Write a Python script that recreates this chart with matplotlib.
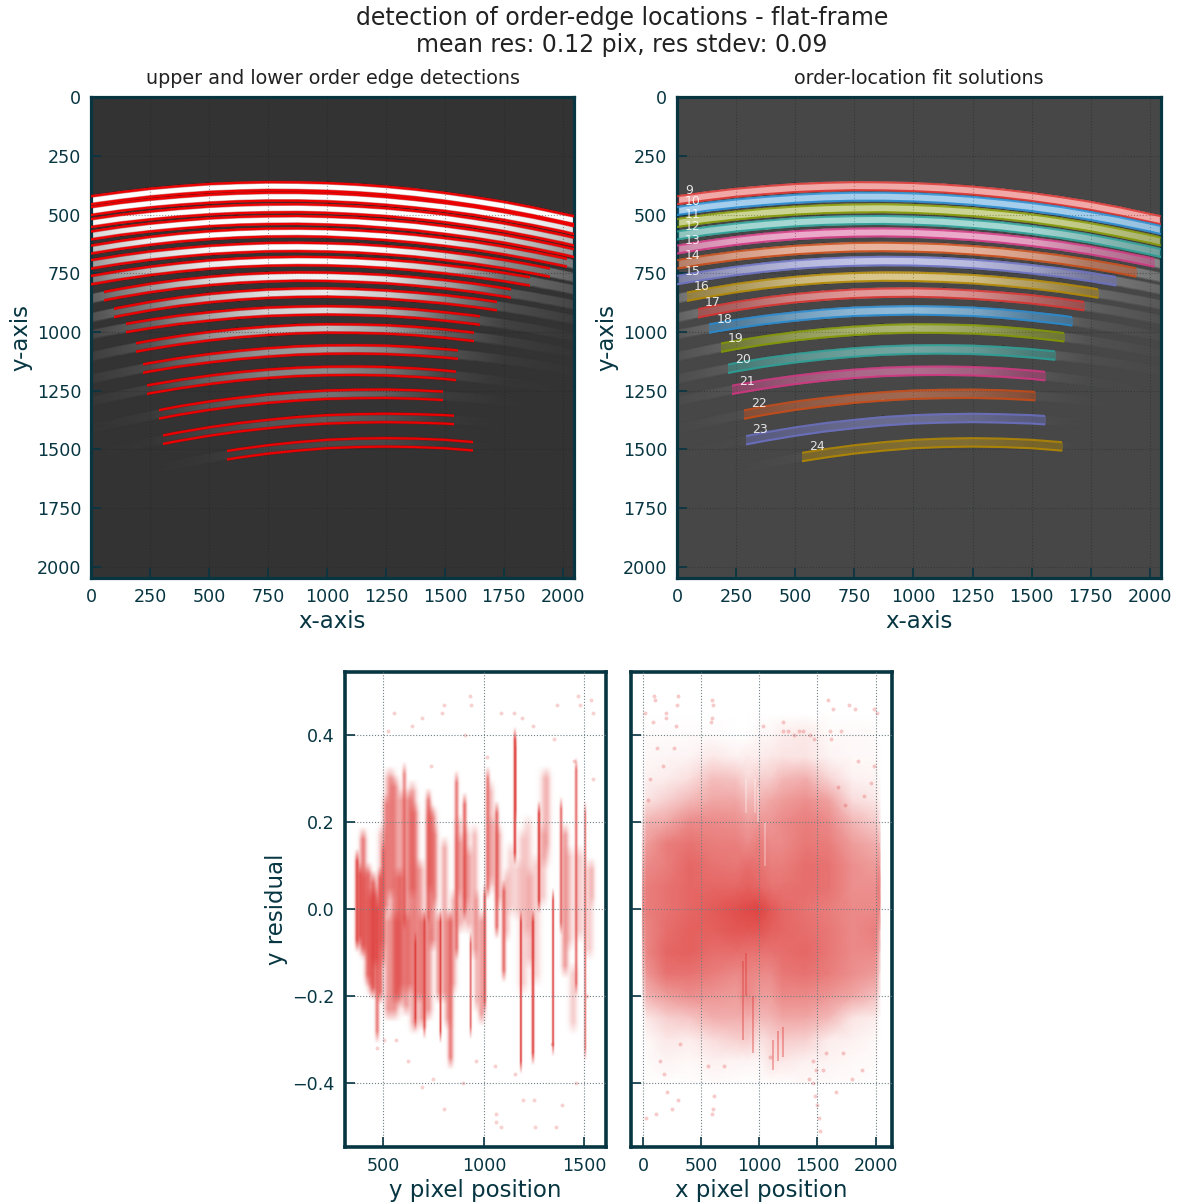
import matplotlib
matplotlib.use("Agg")
import matplotlib.pyplot as plt
from matplotlib.colors import LinearSegmentedColormap
from matplotlib.patches import Rectangle
import numpy as np

W, H = 1177, 1204
ink = "#073642"
red = "#dc322f"
palette = ["#dc322f", "#268bd2", "#859900", "#2aa198", "#d33682", "#cb4b16", "#6c71c4", "#b58900"]

stations = [0, 125, 250, 375, 500, 625, 750, 875, 1000, 1125, 1250, 1375, 1500, 1625, 1750, 1875, 2000, 2047]
orders = [9, 10, 11, 12, 13, 14, 15, 16, 17, 18, 19, 20, 21, 22, 23, 24]

centre = [
    [439, 422, 407, 396, 387, 382, 379, 380, 383, 389, 398, 410, 425, 443, 463, 487, 514, 524],
    [485, 467, 453, 442, 433, 427, 424, 424, 427, 433, 442, 454, 468, 485, 506, 529, 555, 566],
    [536, 518, 504, 492, 483, 477, 474, 473, 476, 482, 490, 502, 516, 534, 554, 578, 604, 615],
    [589, 570, 555, 543, 533, 527, 524, 523, 526, 531, 540, 551, 566, 583, 603, 627, 653, 664],
    [649, 629, 612, 598, 588, 581, 577, 576, 578, 584, 592, 603, 617, 633, 653, 676, 701, 712],
    [712, 692, 675, 662, 651, 644, 639, 638, 640, 644, 652, 662, 676, 692, 711, 733, 758, 768],
    [779, 758, 740, 725, 713, 705, 700, 698, 699, 703, 710, 720, 733, 748, 766, 787, 811, 821],
    [858, 834, 813, 796, 783, 773, 767, 764, 765, 769, 775, 785, 797, 812, 831, 852, 875, 885],
    [939, 913, 890, 871, 856, 845, 837, 833, 832, 835, 841, 850, 861, 876, 894, 915, 939, 949],
    [1011, 987, 966, 948, 934, 922, 914, 910, 908, 910, 914, 922, 934, 948, 966, 987, 1011, 1021],
    [1105, 1078, 1055, 1035, 1018, 1005, 995, 988, 985, 986, 989, 996, 1007, 1021, 1038, 1059, 1083, 1093],
    [1201, 1174, 1150, 1129, 1112, 1098, 1087, 1079, 1075, 1074, 1076, 1082, 1091, 1103, 1118, 1137, 1159, 1168],
    [1296, 1268, 1243, 1222, 1204, 1189, 1178, 1170, 1166, 1165, 1167, 1173, 1182, 1195, 1211, 1230, 1252, 1262],
    [1414, 1384, 1358, 1334, 1314, 1298, 1284, 1274, 1267, 1264, 1263, 1266, 1272, 1282, 1295, 1311, 1330, 1338],
    [1527, 1496, 1469, 1445, 1424, 1406, 1392, 1380, 1372, 1368, 1366, 1368, 1372, 1380, 1392, 1406, 1424, 1431],
    [1657, 1622, 1590, 1562, 1537, 1517, 1500, 1487, 1477, 1472, 1470, 1472, 1477, 1487, 1500, 1517, 1537, 1546],
]
half_width = [17, 17, 17, 17, 17, 18, 18, 18, 18, 18, 18, 18, 18, 18, 18, 18]

# grey level of each order, coarser than the curve
level_x = [0, 250, 500, 750, 1000, 1250, 1500, 1750, 2047]
level = [
    [255, 255, 255, 255, 255, 255, 255, 255, 255],
    [255, 255, 255, 255, 255, 255, 255, 250, 225],
    [245, 255, 255, 255, 255, 255, 255, 230, 185],
    [215, 250, 255, 255, 255, 255, 250, 205, 150],
    [190, 240, 255, 255, 255, 255, 235, 175, 120],
    [155, 215, 250, 255, 255, 250, 215, 140, 100],
    [125, 190, 235, 255, 255, 240, 190, 110, 85],
    [95, 155, 215, 240, 245, 225, 165, 90, 70],
    [80, 125, 190, 225, 235, 205, 135, 78, 60],
    [68, 100, 165, 210, 220, 180, 105, 66, 55],
    [62, 85, 145, 185, 195, 160, 95, 62, 53],
    [58, 75, 120, 150, 160, 135, 82, 58, 52],
    [55, 65, 100, 130, 140, 115, 68, 54, 51],
    [52, 58, 82, 105, 115, 95, 60, 52, 51],
    [51, 53, 68, 85, 92, 80, 56, 51, 51],
    [51, 51, 56, 66, 72, 72, 55, 51, 51],
]

edge_start = [0, 0, 0, 0, 0, 0, 0, 55, 95, 146, 191, 219, 235, 289, 305, 576]
edge_end = [2047, 2047, 2047, 2047, 2017, 1945, 1860, 1781, 1722, 1650, 1623, 1555, 1546, 1490, 1539, 1619]
fit_start = [0, 0, 0, 0, 0, 0, 0, 42, 87, 137, 184, 215, 232, 283, 291, 529]
fit_end = [2047, 2047, 2047, 2047, 2017, 1940, 1857, 1781, 1722, 1672, 1636, 1597, 1555, 1515, 1555, 1627]

label_x = [49, 64, 64, 64, 64, 64, 64, 104, 152, 202, 247, 277, 294, 345, 351, 593]
label_y = [396, 446, 499, 553, 612, 675, 742, 806, 875, 948, 1026, 1116, 1211, 1306, 1417, 1488]

# The ~20k residual points cannot be read one by one, so the panels below are hand-read:
# streaks (left), a density table (right) and the stray points that can be seen singly.
streak_pos = [365, 380, 395, 420, 445, 465, 480, 495, 510, 530, 550, 575, 600, 625, 650, 655, 675, 700, 720, 740, 770, 780,
              800, 830, 860, 880, 900, 920, 930, 950, 985, 1000, 1015, 1035, 1060, 1095, 1150, 1155, 1165, 1180, 1190, 1215,
              1240, 1255, 1270, 1300, 1340, 1380, 1400, 1440, 1455, 1470, 1500, 1520, 1535,
              520, 560, 610, 640, 690, 730, 870, 910, 1030, 1130, 1310,
              400, 435, 455, 490, 585, 720, 750, 815, 845, 960, 1070, 1110, 1225, 1290, 1420]
streak_lo = [-.10, -.09, -.11, -.18, -.21, -.31, -.22, -.14, -.02, .02, -.26, -.23, -.05, -.2, -.29, -.28, -.22, -.30, -.05, -.1, -.22, -.31,
             -.22, -.37, -.12, -.06, -.03, -.06, -.30, -.12, -.27, -.24, .02, .03, -.07, -.17, .10, .2, -.03, -.38, -.2, -.07,
             -.36, -.18, -.01, .09, -.34, -.06, -.16, -.29, -.2, -.08, -.35, -.12, .0,
             -.26, -.22, -.25, .02, -.28, .03, .02, .0, .05, -.02, .12,
             -.12, -.2, -.14, -.1, -.2, -.26, .0, -.28, -.2, -.24, .0, -.08, -.14, .0, -.1]
streak_hi = [.14, .11, .19, .11, .09, .03, .10, .16, .27, .33, .31, .1, .34, .28, .25, -.05, .12, .0, .28, .24, .0, .0,
             .17, .0, .32, .18, .27, .15, -.05, .2, .0, .06, .33, .22, .25, .07, .42, .4, .12, .0, .19, .22,
             .0, .13, .25, .33, .05, .26, .2, -.12, .35, .15, .25, .12, .12,
             .0, .0, .0, .3, .0, .25, .22, .2, .3, .16, .33,
             .1, .05, .06, .2, .28, -.02, .2, .0, .05, .05, .2, .1, .1, .2, .15]
streak_lw = [3, 3, 5, 5, 5, 3, 4, 3, 5, 7, 7, 7, 3, 7, 6, 1.5, 7, 2, 4, 6, 4, 1.5,
             5, 4, 3, 6, 3, 6, 1.5, 5, 5, 2, 3, 6, 3, 3, 2, 1, 8, 1.5, 7, 7,
             2, 7, 2, 7, 1.5, 2, 5, 6, 2, 7, 1.5, 6, 4,
             6, 6, 6, 6, 6, 5, 5, 5, 5, 6, 5,
             6, 6, 6, 6, 6, 6, 5, 5, 5, 4, 5, 5, 6, 6, 6]
streak_alpha = [.55, .45, .4, .4, .45, .4, .45, .35, .3, .3, .32, .35, .35, .32, .3, .6, .28, .5, .4, .32, .3, .6,
                .25, .4, .4, .22, .45, .22, .5, .2, .3, .55, .4, .15, .45, .45, .6, .4, .12, .7, .14, .12,
                .6, .12, .6, .16, .6, .45, .3, .15, .45, .15, .45, .15, .14,
                .28, .28, .3, .25, .28, .22, .18, .18, .18, .12, .12,
                .3, .3, .35, .2, .25, .3, .22, .25, .2, .2, .2, .15, .15, .15, .15]

stray_y_pos = [470, 505, 520, 550, 640, 690, 735, 790, 800, 930, 935, 1015, 1060, 1085, 1150, 1350, 1365, 1470, 1480, 1530, 1540,
               1540, 1450, 1390, 1360, 1255, 1250, 1195, 1060, 1055, 960, 895, 800, 745, 690, 620, 560, 1155, 1340, 1460, 1510, 905, 1085, 1190, 1245]
stray_y_res = [-.32, -.3, .41, .45, .42, .44, .33, .45, .47, .49, .47, .35, -.49, -.5, .45, .39, .47, .49, .47, .48, .45,
               .3, .34, -.45, -.5, -.5, -.44, -.44, -.47, -.36, -.35, -.4, -.46, -.39, -.41, -.35, -.3, -.38, -.31, -.4, -.2, .4, .45, .44, .42]

stray_x_pos = [95, 105, 300, 295, 590, 600, 590, 585, 20, 200, 195, 280, 90, 1200, 1205, 1030, 1245, 1300, 1340, 1380, 1440, 1470, 1610, 1620, 1770, 1820, 2010, 1990,
               1590, 1630, 1700, 1850, 1990, 30, 110, 250, 300, 150, 180, 320, 610, 600, 590, 1460, 1480, 1500, 1510, 1490, 1520, 1430, 1660, 1720, 1880, 1800, 210,
               60, 120, 270, 45, 170, 1680, 1960, 1740, 1900, 560, 700, 1550, 1570, 1460, 1090]
stray_x_res = [.49, .48, .49, .47, .48, .47, .44, .43, .45, .45, .44, .42, .43, .43, .41, .42, .41, .4, .41, .41, .4, .39, .41, .39, .47, .46, .45, .46,
               .48, .46, .41, .34, .33, -.48, -.47, -.46, -.44, -.35, -.38, -.31, -.43, -.46, -.47, -.4, -.43, -.45, -.48, -.37, -.51, -.39, -.42, -.33, -.37, -.39, -.42,
               .3, .37, .37, .25, .33, .28, .29, .24, .26, -.36, -.36, -.37, -.33, -.35, -.34]

density_x = [-5, 30, 200, 400, 600, 800, 900, 1000, 1100, 1200, 1400, 1600, 1800, 2000, 2035, 2045]
density_y = [.45, .40, .35, .30, .25, .20, .15, .10, .05, 0, -.05, -.10, -.15, -.20, -.25, -.30, -.35, -.40]
density = [
    [0, 0, 0, 0, 0, 0, 0, 0, 0, 0, 0, 0, 0, 0, 0, 0],
    [0, .02, .02, .02, .02, 0, 0, .04, .04, .08, .10, .03, .03, .02, 0, 0],
    [0, .03, .04, .05, .10, .06, .08, .08, .10, .12, .12, .05, .03, .03, .01, 0],
    [0, .06, .08, .14, .28, .25, .16, .20, .22, .30, .35, .18, .06, .05, .02, 0],
    [0, .12, .20, .30, .38, .38, .30, .33, .38, .42, .48, .40, .15, .10, .05, 0],
    [.10, .32, .38, .50, .50, .48, .42, .45, .45, .50, .55, .50, .32, .22, .15, 0],
    [.20, .42, .55, .60, .55, .55, .50, .55, .50, .50, .58, .55, .42, .35, .35, 0],
    [.30, .50, .55, .65, .60, .58, .62, .60, .55, .55, .62, .60, .48, .42, .50, 0],
    [.40, .55, .60, .65, .65, .65, .68, .65, .60, .60, .62, .60, .48, .48, .60, .10],
    [.45, .55, .60, .65, .70, .75, .78, .80, .72, .65, .60, .55, .50, .50, .55, .05],
    [.40, .52, .62, .68, .68, .72, .72, .72, .68, .65, .62, .58, .50, .55, .40, 0],
    [.30, .52, .65, .68, .62, .62, .60, .60, .60, .62, .65, .58, .50, .50, .30, 0],
    [.20, .45, .60, .60, .55, .50, .52, .50, .50, .58, .60, .55, .48, .42, .20, 0],
    [.08, .32, .42, .48, .45, .42, .50, .42, .42, .50, .50, .45, .38, .28, .10, 0],
    [0, .10, .20, .25, .35, .35, .35, .30, .32, .38, .38, .30, .12, .08, .02, 0],
    [0, .03, .10, .08, .15, .20, .22, .12, .18, .22, .20, .08, .06, .03, 0, 0],
    [0, .02, .05, .03, .06, .05, .05, .04, .12, .10, .06, .05, .03, .02, 0, 0],
    [0, .01, .01, .01, .02, .01, 0, .01, .01, .01, .03, .02, .02, 0, 0, 0],
]
dark_pos = [860, 885, 950, 1120, 1160, 1200]
dark_lo = [-.30, -.20, -.33, -.37, -.35, -.34]
dark_hi = [-.12, -.1, -.2, -.3, -.28, -.27]
pale_pos = [890, 960, 990, 1050]
pale_lo = [.22, .22, .2, .1]
pale_hi = [.3, .3, .28, .2]

plt.rcParams["font.family"] = "DejaVu Sans"
fig = plt.figure(figsize=(W / 100, H / 100), dpi=100)
reds = LinearSegmentedColormap.from_list("reds", ["#ffffff", "#dc322f"])


def add_axes(left, top, right, bottom, spine=2.3):
    ax = fig.add_axes([left / W, 1 - bottom / H, (right - left) / W, (bottom - top) / H])
    for s in ax.spines.values():
        s.set_linewidth(spine)
        s.set_color(ink)
    ax.tick_params(direction="in", length=7.5, width=1.2, color=ink, labelcolor=ink, labelsize=12.6, pad=7)
    ax.grid(True, color="#6f7f85", linestyle=":", linewidth=0.8)
    ax.set_axisbelow(False)
    return ax


def draw_frame(ax):
    ax.set_facecolor("#333333")
    for c, hw, lv in zip(centre, half_width, level):
        c = np.array(c, dtype=float)
        shade = np.interp(stations, level_x, lv)
        rows_y = np.array([c - hw - 4, c - hw + 2, c + hw - 2, c + hw + 4])
        rows_x = np.array([stations] * 4)
        rows_c = np.array([[51] * len(stations), shade, shade, [51] * len(stations)])
        ax.pcolormesh(rows_x, rows_y, rows_c, shading="gouraud", cmap="gray", vmin=0, vmax=255, zorder=1)
    ax.set_xlim(-0.5, 2047.5)
    ax.set_ylim(2047.5, -0.5)
    ax.set_xticks([0, 250, 500, 750, 1000, 1250, 1500, 1750, 2000])
    ax.set_yticks([0, 250, 500, 750, 1000, 1250, 1500, 1750, 2000])
    ax.grid(True, color="#1c2526", linestyle=":", linewidth=0.8, alpha=0.45)
    ax.set_xlabel("x-axis", fontsize=16.5, color=ink, labelpad=3)
    ax.set_ylabel("y-axis", fontsize=16.5, color=ink, labelpad=3)


def clip_x(ax, artist, x0, x1):
    artist.set_clip_path(Rectangle((x0, -10), x1 - x0, 2100, transform=ax.transData))


# top left: edge detections
ax1 = add_axes(91, 97, 574, 578)
draw_frame(ax1)
ax1.set_title("upper and lower order edge detections", fontsize=13.8, color="#222222", pad=9)
for c, hw, x0, x1 in zip(centre, half_width, edge_start, edge_end):
    c = np.array(c, dtype=float)
    for edge in (c - hw, c + hw):
        glow, = ax1.plot(stations, edge, color="#a00000", lw=2.4, alpha=0.45, zorder=4)
        core, = ax1.plot(stations, edge, color="#ee0000", lw=1.55, zorder=5)
        clip_x(ax1, glow, x0, x1)
        clip_x(ax1, core, x0, x1)

# top right: fit solutions
ax2 = add_axes(677, 97, 1161, 578)
draw_frame(ax2)
ax2.set_title("order-location fit solutions", fontsize=13.8, color="#222222", pad=9)
ax2.add_patch(Rectangle((0, 0), 2048, 2048, color="white", alpha=0.1, lw=0, zorder=2))
for i, (c, hw, x0, x1) in enumerate(zip(centre, half_width, fit_start, fit_end)):
    c = np.array(c, dtype=float)
    col = palette[i % len(palette)]
    band = ax2.fill_between(stations, c - hw, c + hw, color=col, alpha=0.42, lw=0, zorder=3)
    clip_x(ax2, band, x0, x1)
    for edge in (c - hw, c + hw):
        line, = ax2.plot(stations, edge, color=col, lw=1.5, alpha=0.85, zorder=4)
        clip_x(ax2, line, x0, x1)
for n, lx, ly in zip(orders, label_x, label_y):
    ax2.text(lx, ly, str(n), color="white", alpha=0.85, fontsize=9, ha="center", va="center", zorder=6)

# bottom left: residual against y position, streaks summed into a soft coverage map
ax3 = add_axes(344.5, 672, 606, 1147, spine=2.6)
grid_x, grid_y = np.meshgrid(np.linspace(306, 1607, 522), np.linspace(-0.547, 0.545, 950))
clear = np.ones_like(grid_x)
for pos, lo, hi, lw, a in zip(streak_pos, streak_lo, streak_hi, streak_lw, streak_alpha):
    across = np.exp(-((grid_x - pos) / (lw * 3.5)) ** 2)
    along = np.clip((grid_y - lo) / 0.03, 0, 1) * np.clip((hi - grid_y) / 0.03, 0, 1)
    clear *= 1 - min(a * 1.5, 0.95) * across * along
ax3.imshow(1 - clear, extent=(306, 1607, -0.547, 0.545), origin="lower", aspect="auto", cmap=reds, vmin=0, vmax=1, zorder=1)
ax3.scatter(stray_y_pos, stray_y_res, s=8, color=red, alpha=0.22, lw=0, zorder=2)
ax3.set_xlim(306, 1607)
ax3.set_ylim(-0.547, 0.545)
ax3.set_xticks([500, 1000, 1500])
ax3.set_yticks([-0.4, -0.2, 0.0, 0.2, 0.4])
ax3.set_xlabel("y pixel position", fontsize=16.5, color=ink, labelpad=3)
ax3.set_ylabel("y residual", fontsize=16.5, color=ink, labelpad=3)

# bottom right: residual against x position
ax4 = add_axes(631, 672, 892, 1147, spine=2.6)
ax4.pcolormesh(density_x, density_y, density, shading="gouraud", cmap=reds, vmin=0, vmax=0.88, zorder=1)
ax4.vlines(dark_pos, dark_lo, dark_hi, colors=red, linewidths=1.3, alpha=0.4, zorder=2)
ax4.vlines(pale_pos, pale_lo, pale_hi, colors="white", linewidths=1.2, alpha=0.35, zorder=2)
ax4.scatter(stray_x_pos, stray_x_res, s=8, color=red, alpha=0.25, lw=0, zorder=2)
ax4.set_xlim(-103, 2141)
ax4.set_ylim(-0.547, 0.545)
ax4.set_xticks([0, 500, 1000, 1500, 2000])
ax4.set_yticks([-0.4, -0.2, 0.0, 0.2, 0.4])
ax4.set_yticklabels([])
ax4.set_xlabel("x pixel position", fontsize=16.5, color=ink, labelpad=3)

fig.text(622 / W, 1 - 18 / H, "detection of order-edge locations - flat-frame", fontsize=17, color="#222222", ha="center", va="center")
fig.text(622 / W, 1 - 45 / H, "mean res: 0.12 pix, res stdev: 0.09", fontsize=17, color="#222222", ha="center", va="center")

fig.savefig("out.png", dpi=100)
